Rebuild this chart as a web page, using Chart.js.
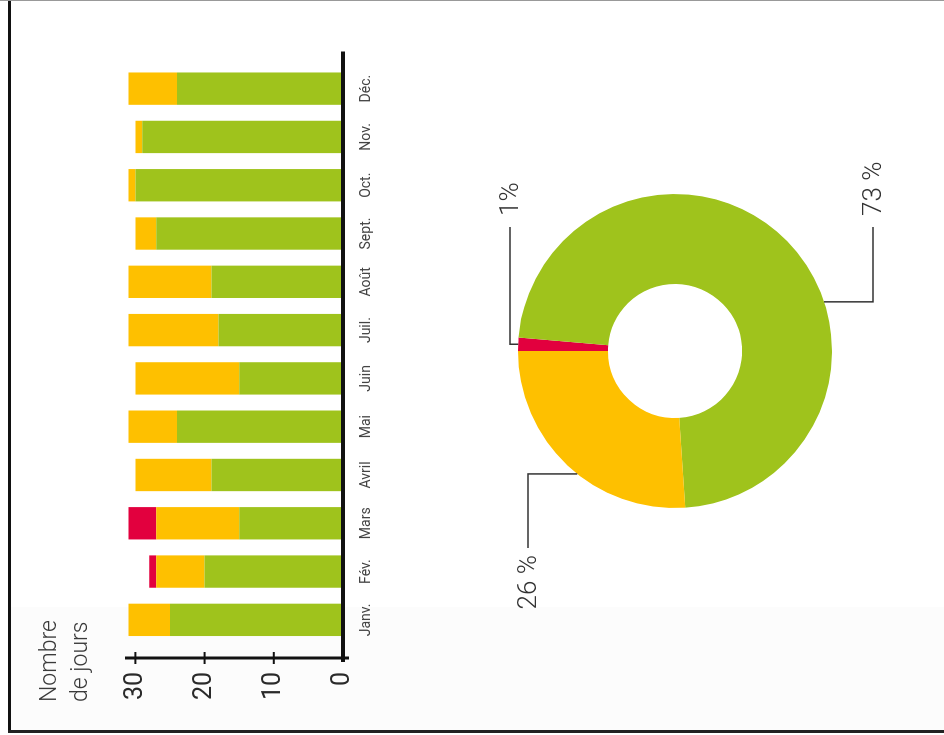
<!DOCTYPE html>
<html lang="fr">
<head>
<meta charset="UTF-8">
<title>Nombre de jours</title>
<script src="https://cdn.jsdelivr.net/npm/chart.js"></script>
<style>
    body { margin: 0; width: 944px; height: 735px; overflow: hidden; background: #fff; position: relative; }
    /* bande grise en bas + cadre */
    .band { position: absolute; left: 11px; top: 607px; width: 933px; height: 123px; background: #fcfcfc; }
    .edge-left { position: absolute; left: 8px; top: 0; width: 3px; height: 733px; background: #111; }
    .edge-top { position: absolute; left: 0; top: 0; width: 944px; height: 1px; background: #999; }
    .edge-bottom { position: absolute; left: 8px; top: 730px; width: 936px; height: 3px; background: #222; }
    /* le graphique d'origine est tourné de 90° */
    #page { position: absolute; left: 0; top: 0; width: 735px; height: 944px;
            transform-origin: 0 0; transform: translateY(735px) rotate(-90deg); }
    #barres { position: absolute; left: 0; top: 0; }
    #anneau { position: absolute; left: 0; top: 420px; }
</style>
</head>
<body>
<div class="band"></div>
<div class="edge-left"></div>
<div class="edge-top"></div>
<div class="edge-bottom"></div>
<div id="page">
    <canvas id="barres" width="735" height="420" style="width:735px;height:420px"></canvas>
    <canvas id="anneau" width="735" height="524" style="width:735px;height:524px"></canvas>
</div>

<script>
    // Données
    const mois = ['Janv.', 'Fév.', 'Mars', 'Avril', 'Mai', 'Juin', 'Juil.', 'Août', 'Sept.', 'Oct.', 'Nov.', 'Déc.'];
    const joursVerts = [25, 20, 15, 19, 24, 15, 18, 19, 27, 30, 29, 24];
    const joursOranges = [6, 7, 12, 11, 7, 15, 13, 12, 3, 1, 1, 7];
    const joursRouges = [0, 1, 4, 0, 0, 0, 0, 0, 0, 0, 0, 0];
    const graduations = [0, 10, 20, 30];
    const etiquettesAnneau = ['1%', '73 %', '26 %'];

    const VERT = '#9fc31c';
    const ORANGE = '#fec000';
    const ROUGE = '#e2003e';
    const POLICE = 'Roboto, "Open Sans", sans-serif';

    const somme = arr => arr.reduce((a, b) => a + b, 0);

    // Axes et titre dessinés à la main
    const axesPlugin = {
        id: 'axes',
        afterDraw(chart) {
            const { ctx, chartArea, scales: { y } } = chart;
            const y0 = y.getPixelForValue(0);
            const axeX = chartArea.left - 14;
            ctx.save();
            ctx.strokeStyle = '#111';
            ctx.lineWidth = 3;
            ctx.beginPath();
            ctx.moveTo(axeX, y0 + 6);
            ctx.lineTo(axeX, chartArea.top);
            ctx.stroke();
            ctx.lineWidth = 4;
            ctx.beginPath();
            ctx.moveTo(axeX - 4, y0);
            ctx.lineTo(chartArea.right + 13, y0);
            ctx.stroke();
            ctx.lineWidth = 2;
            graduations.slice(1).forEach(v => {
                const py = y.getPixelForValue(v);
                ctx.beginPath();
                ctx.moveTo(axeX - 6, py);
                ctx.lineTo(axeX + 6, py);
                ctx.stroke();
            });
            ctx.fillStyle = '#3a3a3a';
            ctx.font = '300 23px ' + POLICE;
            ctx.textAlign = 'left';
            ctx.textBaseline = 'alphabetic';
            ctx.fillText('Nombre', 33, 56);
            ctx.fillText('de jours', 33, 87);
            ctx.restore();
        }
    };

    new Chart(document.getElementById('barres'), {
        type: 'bar',
        data: {
            labels: mois,
            datasets: [
                { label: 'Vert', data: joursVerts, backgroundColor: VERT },
                { label: 'Orange', data: joursOranges, backgroundColor: ORANGE },
                { label: 'Rouge', data: joursRouges, backgroundColor: ROUGE }
            ]
        },
        options: {
            responsive: false,
            animation: false,
            barPercentage: 0.67,
            categoryPercentage: 1,
            layout: { padding: { left: 35, right: 64.5, top: 125, bottom: 0 } },
            plugins: { legend: { display: false }, tooltip: { enabled: false } },
            scales: {
                x: {
                    stacked: true,
                    grid: { display: false, drawTicks: false },
                    border: { display: false },
                    ticks: { color: '#444', padding: 15, font: { family: POLICE, size: 14 }, maxRotation: 0 },
                    afterFit(scale) { scale.height = 77; }
                },
                y: {
                    stacked: true,
                    min: 0,
                    max: 31.5,
                    grid: { display: false, drawTicks: false },
                    border: { display: false },
                    ticks: { color: '#2a2a2a', padding: 28, font: { family: POLICE, size: 25, weight: 400 } },
                    afterBuildTicks(scale) { scale.ticks = graduations.map(v => ({ value: v })); },
                    afterFit(scale) { scale.width = 56; }
                }
            }
        },
        plugins: [axesPlugin]
    });

    // Étiquettes de l'anneau avec traits de rappel
    const reperes = [
        { frac: 0.5, coudeY: -165, finX: 124 },
        { frac: 0.6, coudeY: 198, finX: 124 },
        { frac: 0.45, coudeY: -147, finX: -197 }
    ];

    const etiquettesPlugin = {
        id: 'etiquettes',
        afterDraw(chart) {
            const { ctx } = chart;
            const arcs = chart.getDatasetMeta(0).data;
            ctx.save();
            ctx.strokeStyle = '#333';
            ctx.lineWidth = 1.5;
            ctx.fillStyle = '#333';
            ctx.font = '300 26px ' + POLICE;
            ctx.textBaseline = 'middle';
            arcs.forEach((arc, i) => {
                const r = reperes[i];
                const a = arc.startAngle + r.frac * (arc.endAngle - arc.startAngle);
                const ax = arc.x + arc.outerRadius * Math.cos(a);
                const ay = arc.y + arc.outerRadius * Math.sin(a);
                const cy = arc.y + r.coudeY;
                const fx = arc.x + r.finX;
                ctx.beginPath();
                ctx.moveTo(ax, ay);
                ctx.lineTo(ax, cy);
                ctx.lineTo(fx, cy);
                ctx.stroke();
                if (r.finX > 0) {
                    ctx.textAlign = 'left';
                    ctx.fillText(etiquettesAnneau[i], fx + 11, cy + 1);
                } else {
                    ctx.textAlign = 'right';
                    ctx.fillText(etiquettesAnneau[i], fx - 7, cy + 1);
                }
            });
            ctx.restore();
        }
    };

    new Chart(document.getElementById('anneau'), {
        type: 'doughnut',
        data: {
            labels: ['Rouge', 'Vert', 'Orange'],
            datasets: [{
                data: [somme(joursRouges), somme(joursVerts), somme(joursOranges)],
                backgroundColor: [ROUGE, VERT, ORANGE],
                borderWidth: 0
            }]
        },
        options: {
            responsive: false,
            animation: false,
            cutout: '42.7%',
            layout: { padding: { left: 227, right: 194, top: 98, bottom: 112 } },
            plugins: { legend: { display: false }, tooltip: { enabled: false } }
        },
        plugins: [etiquettesPlugin]
    });
</script>
</body>
</html>
